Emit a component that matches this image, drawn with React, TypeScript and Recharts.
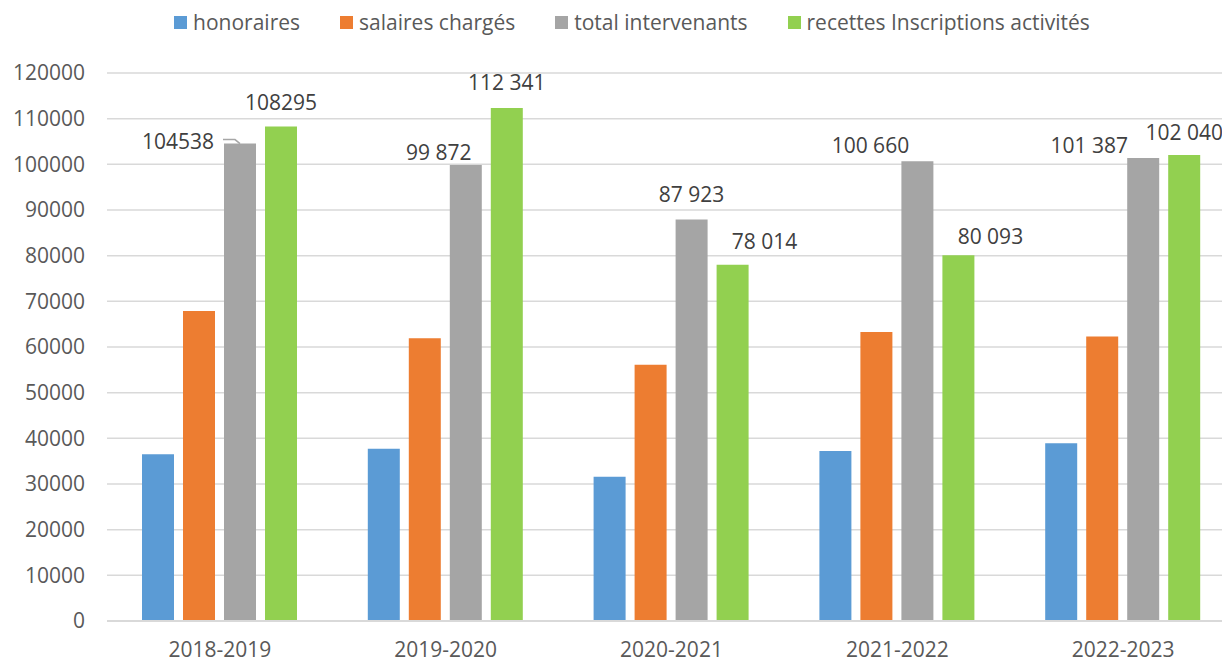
import { Bar, BarChart, CartesianGrid, LabelList, XAxis, YAxis } from 'recharts'

const periods = ['2018-2019', '2019-2020', '2020-2021', '2021-2022', '2022-2023']
const honoraires = [36500, 37700, 31600, 37200, 38900]
const salairesCharges = [67900, 61900, 56100, 63300, 62300]
const totalIntervenants = [104538, 99872, 87923, 100660, 101387]
const recettesInscriptions = [108295, 112341, 78014, 80093, 102040]
const yTicks = [0, 10000, 20000, 30000, 40000, 50000, 60000, 70000, 80000, 90000, 100000, 110000, 120000]

const series = [
  { key: 'honoraires', name: 'honoraires', color: '#5B9BD5' },
  { key: 'salaires', name: 'salaires chargés', color: '#ED7D31' },
  { key: 'total', name: 'total intervenants', color: '#A5A5A5' },
  { key: 'recettes', name: 'recettes Inscriptions activités', color: '#92D050' },
]

// where Excel dropped each data callout, relative to the top centre of its bar
const totalLabelNudge = [
  { dx: -62, dy: -2, leader: true },
  { dx: -27, dy: -12 },
  { dx: 0, dy: -25 },
  { dx: -47, dy: -16 },
  { dx: -54, dy: -12 },
]
const recettesLabelNudge = [
  { dx: 0, dy: -24 },
  { dx: 0, dy: -25 },
  { dx: 32, dy: -23 },
  { dx: 32, dy: -19 },
  { dx: 0, dy: -23 },
]

const data = periods.map((period, i) => ({
  period,
  honoraires: honoraires[i],
  salaires: salairesCharges[i],
  total: totalIntervenants[i],
  recettes: recettesInscriptions[i],
}))

// first year has no thousands separator in the source
const formatValue = (v: number, i: number) =>
  i === 0 ? String(v) : String(v).replace(/\B(?=(\d{3})+(?!\d))/g, ' ')

type Nudge = { dx: number; dy: number; leader?: boolean }

function makeLabel(nudges: Nudge[]) {
  return function CalloutLabel(props: any) {
    const { x, y, width, value, index } = props
    const n = nudges[index] ?? { dx: 0, dy: -24 }
    const cx = Number(x) + Number(width) / 2 + n.dx
    const cy = Number(y) + n.dy
    return (
      <g>
        {n.leader && (
          <path
            d={`M${x - 1},${y - 4} L${x + 11},${y - 4} L${x + 16},${y}`}
            fill='none'
            stroke='#a6a6a6'
            strokeWidth={1.5}
          />
        )}
        <text x={cx} y={cy} dy='0.357em' textAnchor='middle' fill='#404040' fontSize={21}>
          {formatValue(Number(value), index)}
        </text>
      </g>
    )
  }
}

function ChartLegend() {
  return (
    <div
      style={{
        position: 'absolute',
        top: 8,
        left: 0,
        width: 1264,
        display: 'flex',
        justifyContent: 'center',
        gap: 40,
        fontSize: 21,
        lineHeight: '28px',
        color: '#595959',
        zIndex: 1,
      }}
    >
      {series.map((s) => (
        <div key={s.key} style={{ display: 'flex', alignItems: 'center' }}>
          <span style={{ width: 13, height: 13, background: s.color, marginRight: 6, display: 'inline-block' }} />
          <span>{s.name}</span>
        </div>
      ))}
    </div>
  )
}

export default function App() {
  return (
    <div
      style={{
        position: 'absolute',
        left: 0,
        top: 0,
        width: 1222,
        height: 661,
        overflow: 'hidden',
        background: '#fff',
        fontFamily: '"Open Sans", sans-serif',
      }}
    >
      <ChartLegend />
      <BarChart
        width={1236}
        height={661}
        data={data}
        margin={{ top: 73, right: 0, bottom: 0, left: 0 }}
        barSize={32}
        barGap={9}
      >
        <CartesianGrid vertical={false} stroke='#d9d9d9' strokeWidth={1.5} />
        <XAxis
          dataKey='period'
          height={40}
          interval={0}
          tickLine={false}
          axisLine={{ stroke: '#d9d9d9', strokeWidth: 2 }}
          tickSize={6}
          tickMargin={15}
          tick={{ fill: '#595959', fontSize: 21 }}
        />
        <YAxis
          width={107}
          domain={[0, 120000]}
          ticks={yTicks}
          interval={0}
          axisLine={false}
          tickLine={false}
          tickSize={6}
          tickMargin={16}
          tick={{ fill: '#595959', fontSize: 21 }}
        />
        <Bar dataKey='honoraires' name='honoraires' fill='#5B9BD5' isAnimationActive={false} />
        <Bar dataKey='salaires' name='salaires chargés' fill='#ED7D31' isAnimationActive={false} />
        <Bar dataKey='total' name='total intervenants' fill='#A5A5A5' isAnimationActive={false}>
          <LabelList dataKey='total' content={makeLabel(totalLabelNudge)} />
        </Bar>
        <Bar dataKey='recettes' name='recettes Inscriptions activités' fill='#92D050' isAnimationActive={false}>
          <LabelList dataKey='recettes' content={makeLabel(recettesLabelNudge)} />
        </Bar>
      </BarChart>
    </div>
  )
}
